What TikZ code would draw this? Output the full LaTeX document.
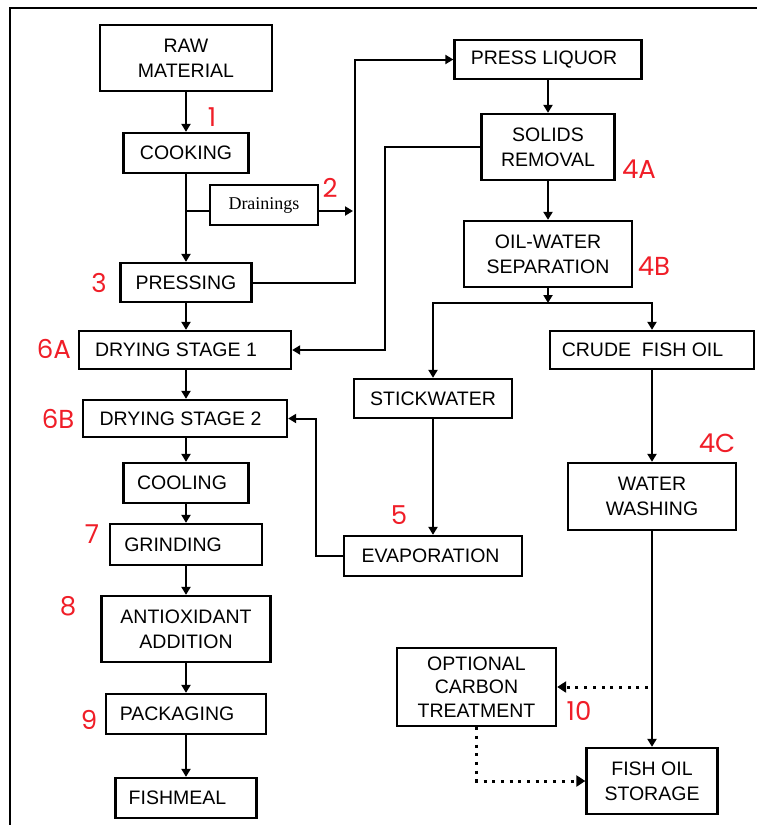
\documentclass[tikz,border=0pt]{standalone}
\usepackage{fontspec}
\setmainfont{Liberation Sans}
\newfontfamily\drainfont{Liberation Serif}
\newfontfamily\numfont{Poppins}
\usetikzlibrary{arrows.meta}
\definecolor{numred}{RGB}{240,30,40}
\begin{document}
\begin{tikzpicture}[x=1pt,y=-1pt,
  box/.style={draw, line width=2.3pt, inner sep=0pt, align=center,
    font=\fontsize{19.5}{25}\selectfont},
  ln/.style={line width=2pt},
  arr/.style={line width=2pt, -{Triangle[length=8pt,width=9pt]}},
  dotarr/.style={line width=3pt, dash pattern=on 3pt off 5.7pt,
    -{Triangle[length=9pt,width=11pt]}},
  num/.style={text=numred, font=\numfont\fontsize{26}{28}\selectfont, inner sep=0pt}
]
\useasboundingbox (0,0) rectangle (756,825);
\fill[white] (0,0) rectangle (756,825);
% frame
\draw[line width=2.5pt] (10,830) -- (10,8) -- (760,8);

% left column
\node[box, minimum width=172pt, minimum height=66pt] (raw) at (186,58) {RAW\\MATERIAL};
\node[box, minimum width=125pt, minimum height=40pt] (cook) at (186,153) {COOKING};
\node[box, minimum width=108pt, minimum height=40pt, font=\drainfont\fontsize{18}{20}\selectfont] (drain) at (264,205) {Drainings};
\node[box, minimum width=131pt, minimum height=39pt] (press) at (186,282.5) {PRESSING};
\node[box, minimum width=212pt, minimum height=38pt] (ds1) at (185,350) {\hspace*{-18pt}DRYING STAGE 1};
\node[box, minimum width=204pt, minimum height=37pt] (ds2) at (185,418.5) {\hspace*{-9pt}DRYING STAGE 2};
\node[box, minimum width=125pt, minimum height=40pt] (cool) at (186,483) {\hspace*{-8pt}COOLING};
\node[box, minimum width=152pt, minimum height=41pt] (grind) at (186,544.5) {\hspace*{-26pt}GRINDING};
\node[box, minimum width=169pt, minimum height=66pt] (anti) at (186,629) {ANTIOXIDANT\\ADDITION};
\node[box, minimum width=160pt, minimum height=40pt] (pack) at (186,714) {\hspace*{-18pt}PACKAGING};
\node[box, minimum width=141pt, minimum height=40pt] (fish) at (186,798) {\hspace*{-17pt}FISHMEAL};

% right part
\node[box, minimum width=187pt, minimum height=39pt] (liquor) at (548,59.5) {\hspace*{-8pt}PRESS LIQUOR};
\node[box, minimum width=133pt, minimum height=66pt] (solids) at (548,147) {SOLIDS\\REMOVAL};
\node[box, minimum width=168pt, minimum height=66pt] (ow) at (548,254) {OIL-WATER\\SEPARATION};
\node[box, minimum width=204pt, minimum height=38pt] (crude) at (652,350) {\hspace*{-19pt}CRUDE\ \ FISH OIL};
\node[box, minimum width=158pt, minimum height=39pt] (stick) at (433,398.5) {STICKWATER};
\node[box, minimum width=178pt, minimum height=40pt] (evap) at (433,556) {\hspace*{-5pt}EVAPORATION};
\node[box, minimum width=168pt, minimum height=67pt] (wash) at (652,496.5) {WATER\\WASHING};
\node[box, minimum width=159pt, minimum height=78pt, font=\fontsize{19.5}{23.5}\selectfont] (carbon) at (476.5,687) {OPTIONAL\\CARBON\\TREATMENT};
\node[box, minimum width=131pt, minimum height=66pt] (store) at (652,781) {FISH OIL\\STORAGE};

% numbers
\node[num] (n1) at (212,117) {1};
\node[num] (n2) at (330,188) {2};
\node[num] (n3) at (99,283) {3};
\node[num] (n4a) at (639,169) {4A};
\node[num] (n4b) at (654,266) {4B};
\node[num] (n4c) at (717,443) {4C};
\node[num] (n5) at (399,515) {5};
\node[num] (n6a) at (54,349) {6A};
\node[num] (n6b) at (58,419) {6B};
\node[num] (n7) at (92,534) {7};
\node[num] (n8) at (68,606) {8};
\node[num] (n9) at (89,720) {9};
\node[num] (n10) at (579,711) {10};

% junctions
\coordinate (j1) at (186,211);
\coordinate (j2) at (353,211);
\coordinate (br) at (548,303);

% left column connectors
\draw[arr] (raw.south) -- (cook.north);
\draw[arr] (cook.south) -- (press.north);
\draw[ln] (j1) -- (j1 -| drain.west);
\draw[arr] (drain.east |- j1) -- (j2);
\draw[arr] (press.south) -- (press.south |- ds1.north);
\draw[arr] (ds1.south -| press.south) -- (press.south |- ds2.north);
\draw[arr] (ds2.south -| press.south) -- (cool.north);
\draw[arr] (cool.south) -- (grind.north);
\draw[arr] (grind.south) -- (anti.north);
\draw[arr] (anti.south) -- (pack.north);
\draw[arr] (pack.south) -- (fish.north);

% press liquor path
\draw[arr] (press.east) -- ++(102,0) |- (liquor.west);
\draw[arr] (liquor.south) -- (solids.north);
\draw[arr] (solids.south) -- (ow.north);
\draw[arr] (solids.west) -- ++(-95,0) |- (ds1.east);
\draw[arr] (ow.south) -- (br);
\draw[arr] (br) -| (stick.north);
\draw[arr] (br) -| (crude.north);
\draw[arr] (stick.south) -- (evap.north);
\draw[arr] (evap.west) -- ++(-27,0) |- (ds2.east);
\draw[arr] (crude.south) -- (wash.north);
\draw[arr] (wash.south) -- (store.north);
\draw[dotarr] ([xshift=-4pt]wash.south |- carbon.east) -- (carbon.east);
\draw[dotarr] (carbon.south) |- (store.west);
\end{tikzpicture}
\end{document}
